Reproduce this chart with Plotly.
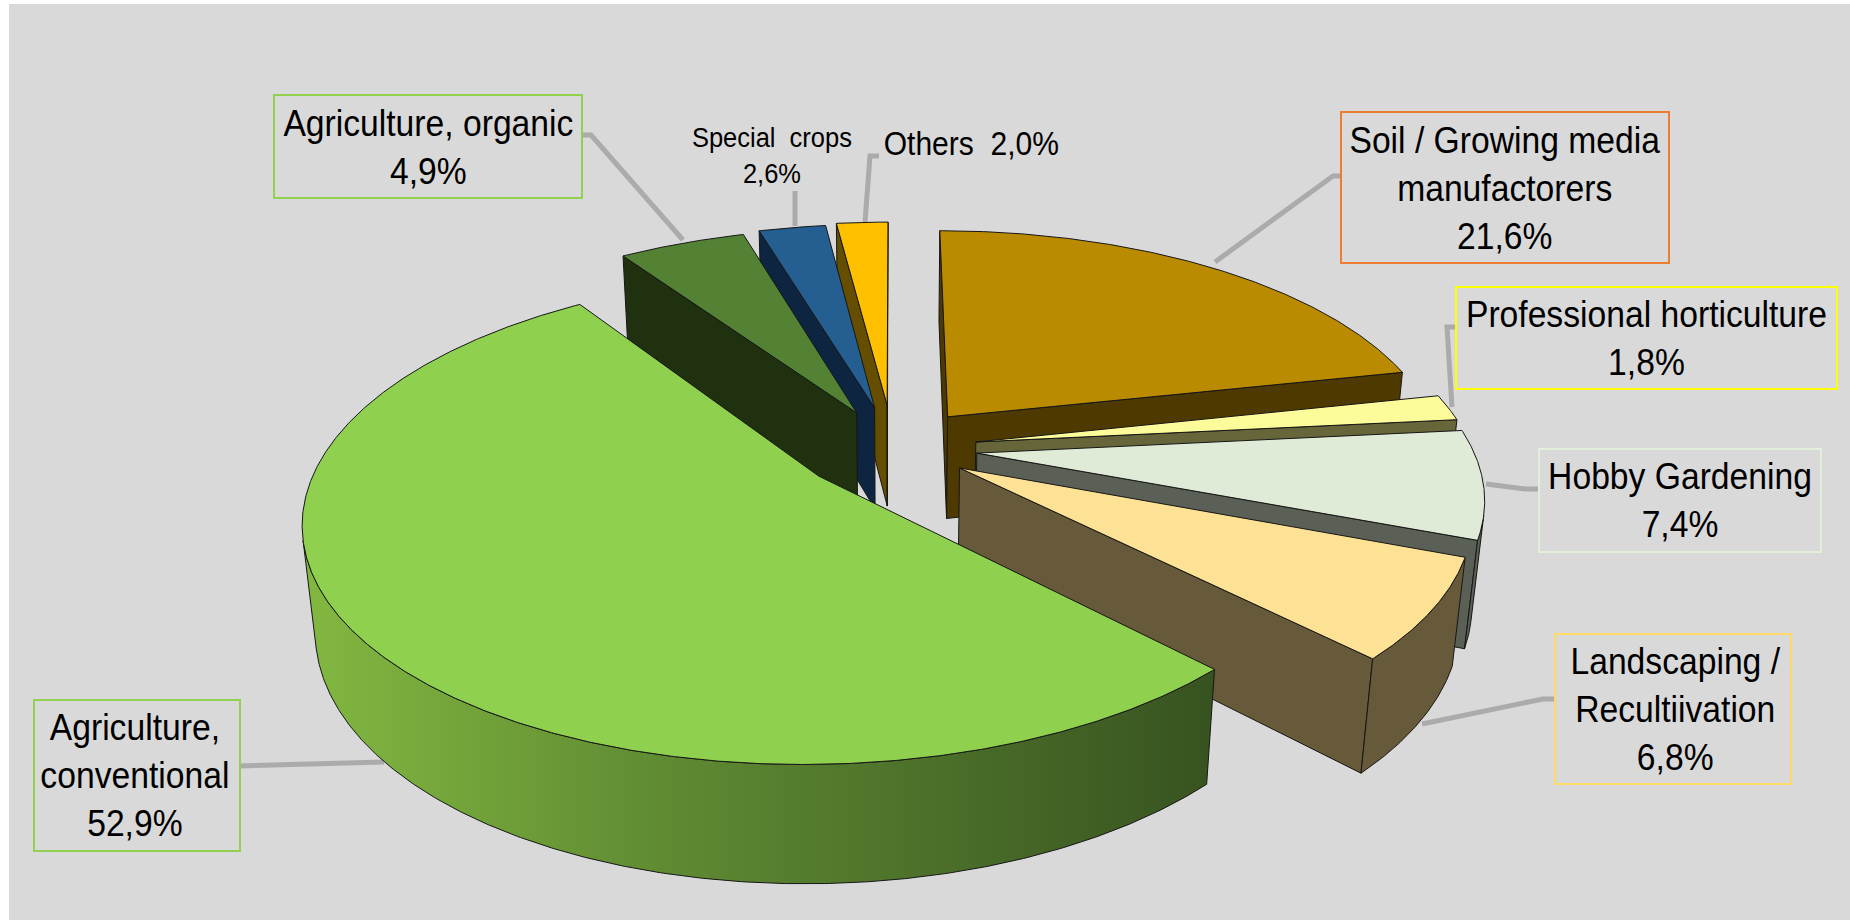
import numpy as np
import plotly.graph_objects as go

# Shares in percent, clockwise from twelve o'clock
categories = ["Soil / Growing media manufactorers", "Professional horticulture", "Hobby Gardening",
              "Landscaping / Recultiivation", "Agriculture, conventional", "Agriculture, organic",
              "Special crops", "Others"]
shares = [21.6, 1.8, 7.4, 6.8, 52.9, 4.9, 2.6, 2.0]
explode = [0.18, 0.17, 0.17, 0.158, 0.19, 0.175, 0.185, 0.195]
top_colors = ["#ba8a00", "#fbfb99", "#e0ebd7", "#fde295", "#90d04f", "#548235", "#255e91", "#ffc000"]
wall_colors = ["#4e3a00", "#66663a", "#5a6055", "#665a3a", "#375320", "#20310f", "#0d2540", "#664e00"]
paint_order = [0, 1, 2, 3, 7, 6, 5, 4]

# Label text lines (the percentage is appended from the share)
label_lines = [["Soil / Growing media", "manufactorers"], ["Professional horticulture"], ["Hobby Gardening"],
               ["Landscaping /", "Recultiivation"], ["Agriculture,", "conventional"], ["Agriculture, organic"],
               ["Special  crops"], None]

# Label layout: centre, font size, optional box (x0, y0, x1, y1) and border colour
label_layout = [
    dict(c=(1505, 188), size=37, box=(1341, 112, 1669, 263), border="#ed7d31"),
    dict(c=(1646, 338), size=37, box=(1456, 287, 1837, 389), border="#ffff00"),
    dict(c=(1680, 500), size=37, box=(1539, 449, 1821, 552), border="#e2efda"),
    dict(c=(1675, 709), size=37, box=(1555, 634, 1791, 784), border="#ffd966"),
    dict(c=(135, 775), size=37, box=(34, 700, 240, 851), border="#92d050"),
    dict(c=(428, 147), size=37, box=(274, 95, 582, 198), border="#92d050"),
    dict(c=(772, 155), size=28, box=None, border=None),
    dict(c=(971, 143), size=33, box=None, border=None),
]
leaders = [
    [(1341, 176), (1333, 176), (1215, 262)],
    [(1456, 327), (1447, 327), (1452, 407)],
    [(1539, 489), (1525, 489), (1486, 484)],
    [(1555, 699), (1543, 699), (1422, 724)],
    [(240, 766), (384, 762)],
    [(582, 135), (591, 135), (683, 240)],
    [(795, 191), (795, 226)],
    [(879, 156), (870, 156), (865, 222)],
]

# Camera model for the tilted disc
CX, CY = 893, 448
SIN_E = 0.46
COS_E = np.sqrt(1 - SIN_E ** 2)
DIST = 5.16
FOCAL = 2557
THICK = 0.24


def project(x, y, z):
    w = DIST + y * COS_E - z * SIN_E
    return CX + FOCAL * x / w, CY - FOCAL * (y * SIN_E + z * COS_E) / w


def faces_camera(nx, ny, px, py):
    # Positive when a vertical face with normal (nx, ny) at (px, py) is turned towards the viewer
    return nx * (-px) + ny * (-DIST * COS_E - py) > 0


def polygon(xs, ys, fill, name, gradient=None):
    kw = dict(fillgradient=gradient) if gradient else dict(fillcolor=fill)
    return go.Scatter(x=list(xs) + [xs[0]], y=list(ys) + [ys[0]], mode="lines", fill="toself", name=name,
                      line=dict(color="#161616", width=1), hoverinfo="skip", showlegend=False, **kw)


fig = go.Figure()

for pts in leaders:
    fig.add_trace(go.Scatter(x=[p[0] for p in pts], y=[p[1] for p in pts], mode="lines", hoverinfo="skip",
                             showlegend=False, line=dict(color="#ababab", width=5)))

edges = np.concatenate([[0], np.cumsum(shares)]) / sum(shares) * 360
for i in paint_order:
    a0, a1 = edges[i], edges[i + 1]
    mid = np.radians((a0 + a1) / 2)
    ox, oy = explode[i] * np.sin(mid), explode[i] * np.cos(mid)
    name = categories[i]
    theta = np.radians(np.linspace(a0, a1, max(12, int((a1 - a0) * 3))))

    # Radial side walls that are turned towards the viewer
    for a, sign in ((a0, -1), (a1, 1)):
        s, c = np.sin(np.radians(a)), np.cos(np.radians(a))
        if faces_camera(sign * c, -sign * s, ox, oy):
            ex, ey = ox + s, oy + c
            p = [project(ox, oy, 0), project(ex, ey, 0), project(ex, ey, -THICK), project(ox, oy, -THICK)]
            fig.add_trace(polygon([q[0] for q in p], [q[1] for q in p], wall_colors[i], name))

    # Visible part of the outer rim, shaded from left to right on the large slice
    px, py = ox + np.sin(theta), oy + np.cos(theta)
    visible = faces_camera(np.sin(theta), np.cos(theta), px, py)
    if visible.sum() >= 2:
        vx, vy = px[visible], py[visible]
        tx, ty = project(vx, vy, 0)
        bx, by = project(vx[::-1], vy[::-1], -THICK)
        gradient = None
        if i == 4:
            gradient = dict(type="horizontal", colorscale=[[0, "#82b841"], [0.4, "#5f8a32"], [1, "#375320"]])
        fig.add_trace(polygon(np.concatenate([tx, bx]), np.concatenate([ty, by]), wall_colors[i], name, gradient))

    # Top face
    tx, ty = project(px, py, 0)
    cx0, cy0 = project(ox, oy, 0)
    fig.add_trace(polygon(np.concatenate([[cx0], tx]), np.concatenate([[cy0], ty]), top_colors[i], name))

shapes = [dict(type="rect", x0=9, y0=4, x1=1850, y1=920, fillcolor="#d9d9d9", line_width=0, layer="below")]
annotations = []
for i, spec in enumerate(label_layout):
    pct = f"{shares[i]:.1f}".replace(".", ",") + "%"
    if label_lines[i] is None:
        text = f"{categories[i]}  {pct}"
    else:
        text = "<br>".join(label_lines[i] + [pct])
    annotations.append(dict(x=spec["c"][0], y=spec["c"][1], xref="x", yref="y", text=text, showarrow=False,
                            xanchor="center", yanchor="middle", align="center",
                            font=dict(family="Liberation Sans", size=spec["size"], color="#000000")))
    if spec["box"]:
        x0, y0, x1, y1 = spec["box"]
        shapes.append(dict(type="rect", x0=x0, y0=y0, x1=x1, y1=y1, line=dict(color=spec["border"], width=2),
                           fillcolor="rgba(0,0,0,0)", layer="above"))

fig.update_layout(
    width=1850, height=921, margin=dict(l=0, r=0, t=0, b=0), paper_bgcolor="#ffffff", plot_bgcolor="rgba(0,0,0,0)",
    shapes=shapes, annotations=annotations, showlegend=False,
    xaxis=dict(range=[0, 1850], visible=False, fixedrange=True),
    yaxis=dict(range=[921, 0], visible=False, fixedrange=True),
)

# The labels are set in a slightly condensed Arial-like face
condense = """
document.querySelectorAll('.annotation-text').forEach(function (t) {
  var b = t.getBBox(), c = b.x + b.width / 2;
  t.setAttribute('transform', 'translate(' + c + ' 0) scale(0.91 1) translate(' + (-c) + ' 0)');
});
"""
fig.write_html("out.html", post_script=condense, config=dict(displayModeBar=False))
